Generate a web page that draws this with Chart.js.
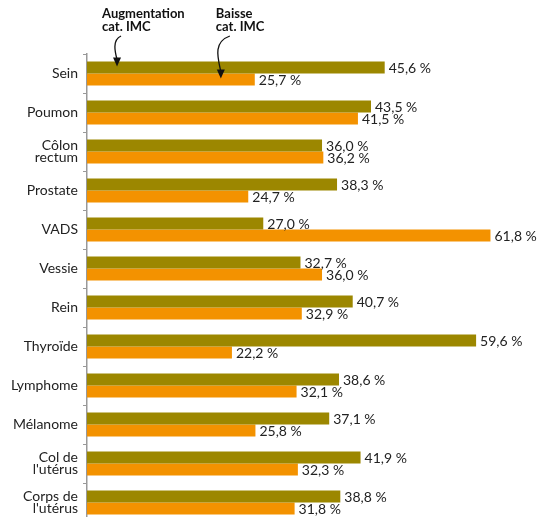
<!DOCTYPE html>
<html lang="fr">
<head>
<meta charset="utf-8">
<script src="https://cdn.jsdelivr.net/npm/chart.js@4"></script>
<style>
  html, body { margin: 0; padding: 0; background: #fff; overflow: hidden; }
  #wrap { width: 548px; height: 517px; overflow: hidden; }
</style>
</head>
<body>
<!-- the plot runs a few pixels past the bottom edge, as in the original crop -->
<div id="wrap"><canvas id="chart" width="548" height="522"></canvas></div>
<script>
// categories (multi-line labels) and the two series, in %
const categories = [["Sein"], ["Poumon"], ["Côlon", "rectum"], ["Prostate"], ["VADS"], ["Vessie"], ["Rein"], ["Thyroïde"], ["Lymphome"], ["Mélanome"], ["Col de", "l'utérus"], ["Corps de", "l'utérus"]];
const augmentation = [45.6, 43.5, 36.0, 38.3, 27.0, 32.7, 40.7, 59.6, 38.6, 37.1, 41.9, 38.8];
const baisse = [25.7, 41.5, 36.2, 24.7, 61.8, 36.0, 32.9, 22.2, 32.1, 25.8, 32.3, 31.8];
const seriesNames = [["Augmentation", "cat. IMC"], ["Baisse", "cat. IMC"]];

const OLIVE = "#9c8700";
const ORANGE = "#f39200";

// value labels to the right of each bar
const valueLabels = {
    id: "valueLabels",
    afterDatasetsDraw(chart) {
        const ctx = chart.ctx;
        ctx.save();
        ctx.font = "14px Lato";
        ctx.fillStyle = "#222";
        ctx.textBaseline = "middle";
        chart.data.datasets.forEach((ds, i) => {
            chart.getDatasetMeta(i).data.forEach((bar, j) => {
                const txt = ds.data[j].toFixed(1).replace(".", ",") + " %";
                ctx.fillText(txt, bar.x + 4, bar.y + 1);
            });
        });
        ctx.restore();
    }
};

// the two series names with curved arrows pointing at the first category
const arrowNotes = {
    id: "arrowNotes",
    afterDraw(chart) {
        const ctx = chart.ctx;
        const top = chart.chartArea.top;
        const notes = [
            { dataset: 0, at: 4.6, dx: -15, sx: 4, c1: [-5, 40], c2: [-2, 52] },
            { dataset: 1, at: 20.5, dx: -5, sx: 9, c1: [-8, 42], c2: [-3, 58] }
        ];
        ctx.save();
        notes.forEach(n => {
            const bar = chart.getDatasetMeta(n.dataset).data[0];
            const tipX = chart.scales.x.getPixelForValue(n.at);
            const tipY = bar.y - 1;

            ctx.fillStyle = "#111";
            ctx.font = "bold 13px Lato";
            ctx.textBaseline = "middle";
            ctx.textAlign = "left";
            ctx.fillText(seriesNames[n.dataset][0], tipX + n.dx, top - 40);
            ctx.fillText(seriesNames[n.dataset][1], tipX + n.dx, top - 27);

            ctx.strokeStyle = "#111";
            ctx.lineWidth = 1.3;
            ctx.beginPath();
            ctx.moveTo(tipX + n.sx, top - 18);
            ctx.bezierCurveTo(tipX + n.c1[0], n.c1[1], tipX + n.c2[0], n.c2[1], tipX, tipY - 7);
            ctx.stroke();

            ctx.beginPath();
            ctx.moveTo(tipX, tipY);
            ctx.lineTo(tipX - 4, tipY - 9);
            ctx.lineTo(tipX + 4, tipY - 9);
            ctx.closePath();
            ctx.fill();
        });
        ctx.restore();
    }
};

new Chart(document.getElementById("chart"), {
    type: "bar",
    data: {
        labels: categories,
        datasets: [
            { label: "Augmentation cat. IMC", data: augmentation, backgroundColor: OLIVE },
            { label: "Baisse cat. IMC", data: baisse, backgroundColor: ORANGE }
        ]
    },
    options: {
        indexAxis: "y",
        responsive: false,
        animation: false,
        categoryPercentage: 0.62,
        barPercentage: 1.0,
        layout: { padding: { top: 54, right: 4, bottom: 0, left: 0 } },
        plugins: {
            legend: { display: false },
            tooltip: { enabled: false }
        },
        scales: {
            x: { display: false, min: 0, max: 70 },
            y: {
                grid: { drawOnChartArea: false, tickLength: 4, color: "#999", offset: true },
                border: { display: true, color: "#999", width: 1.5 },
                ticks: { color: "#222", font: { family: "Lato", size: 14, lineHeight: 0.88 }, padding: 5, autoSkip: false },
                afterFit(scale) {
                    scale.width = 87;
                    // keep the first/last label from shrinking the plot
                    scale.paddingTop = 0;
                    scale.paddingBottom = 0;
                }
            }
        }
    },
    plugins: [valueLabels, arrowNotes]
});
</script>
</body>
</html>
